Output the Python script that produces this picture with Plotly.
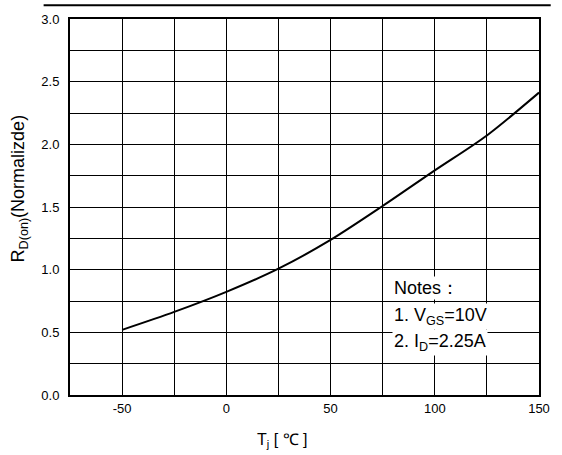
import plotly.graph_objects as go

# Normalized on-resistance versus junction temperature
temp_c = [-50, -25, 0, 25, 50, 75, 100, 125, 150]
rds_norm = [0.52, 0.663, 0.823, 1.008, 1.237, 1.508, 1.792, 2.071, 2.413]

x_ticks = [-50, 0, 50, 100, 150]
y_ticks = [0.0, 0.5, 1.0, 1.5, 2.0, 2.5, 3.0]

notes = ["Notes：", "1. V<sub>GS</sub>=10V", "2. I<sub>D</sub>=2.25A"]

FONT = "Liberation Sans, Arial, sans-serif"

fig = go.Figure()
fig.add_trace(go.Scatter(
    x=temp_c, y=rds_norm, mode="lines",
    line=dict(color="black", width=2, shape="spline", smoothing=0.8),
    hoverinfo="skip", showlegend=False,
))

axis_common = dict(
    showline=True, linecolor="black", linewidth=2, mirror=True,
    showgrid=True, gridcolor="black", gridwidth=1.4,
    ticks="", zeroline=False,
    tickfont=dict(family=FONT, size=13, color="black"),
)

fig.update_xaxes(
    range=[-75, 150], tickvals=x_ticks, ticktext=[str(v) for v in x_ticks],
    minor=dict(tick0=-75, dtick=25, showgrid=True, gridcolor="black", gridwidth=1.4),
    **axis_common,
)
fig.update_yaxes(
    range=[0, 3.0], tickvals=y_ticks, ticktext=[f"{v:.1f}" for v in y_ticks],
    minor=dict(tick0=0, dtick=0.25, showgrid=True, gridcolor="black", gridwidth=1.4),
    ticklabelstandoff=6,
    **axis_common,
)

# Axis titles placed as annotations
fig.add_annotation(
    text="R<sub>D(on)</sub>(Normalizde)", textangle=-90,
    xref="paper", yref="paper", x=(18 - 70) / 480, y=(395 - 186) / 380,
    xanchor="center", yanchor="middle", showarrow=False,
    font=dict(family=FONT, size=18, color="black"),
)
fig.add_annotation(
    text="T<sub>j</sub> [ ℃ ]",
    xref="paper", yref="paper", x=(287 - 70) / 480, y=-(429 - 395) / 380,
    xanchor="center", yanchor="top", showarrow=False,
    font=dict(family=FONT, size=16, color="black"),
)

# Test-condition notes, each line on its own white patch
note_y = [287, 316, 342]
for txt, py in zip(notes, note_y):
    fig.add_annotation(
        text=txt, xref="paper", yref="paper",
        x=(400 - 70) / 480, y=(395 - py) / 380,
        xanchor="left", yanchor="middle", showarrow=False,
        bgcolor="white", borderpad=1,
        font=dict(family=FONT, size=18, color="black"),
    )

# Rule across the top of the page
fig.add_shape(
    type="line", xref="paper", yref="paper",
    x0=(43 - 70) / 480, x1=(562 - 70) / 480,
    y0=(395 - 1) / 380, y1=(395 - 1) / 380,
    line=dict(color="black", width=2),
)

fig.update_layout(
    width=562, height=455,
    margin=dict(l=70, r=12, t=15, b=60),
    paper_bgcolor="white", plot_bgcolor="white",
    font=dict(family=FONT, color="black"),
)

fig.write_html("out.html")
